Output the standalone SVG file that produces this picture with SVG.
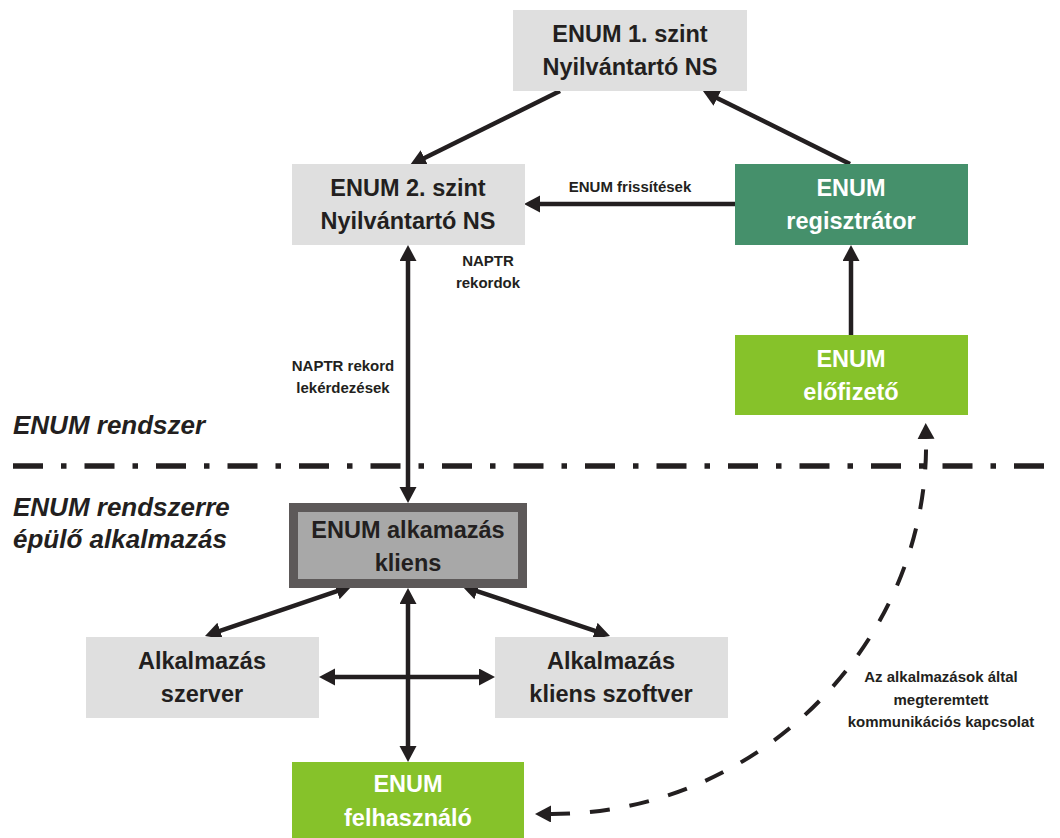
<svg xmlns="http://www.w3.org/2000/svg" width="1060" height="838" viewBox="0 0 1060 838">
<style>
.bg{fill:#ffffff}
.box{fill:#dfdfdf}
.reg{fill:#45906b}
.sub{fill:#86c22a}
.cli{fill:#a8a8a8;stroke:#5d5959;stroke-width:9}
.t{font-family:"Liberation Sans",Arial,sans-serif;font-weight:bold;font-size:23.5px;text-anchor:middle;fill:#231f20}
.w{fill:#ffffff}
.s{font-family:"Liberation Sans",Arial,sans-serif;font-weight:bold;font-size:15px;text-anchor:middle;fill:#231f20}
.it{font-family:"Liberation Sans",Arial,sans-serif;font-weight:bold;font-style:italic;font-size:26px;fill:#231f20}
.ln{fill:none;stroke:#231f20;stroke-width:4.5}
.one{marker-end:url(#ah)}
.two{marker-start:url(#ah);marker-end:url(#ah)}
.dash{fill:none;stroke:#231f20;stroke-width:4;stroke-dasharray:20 20;marker-start:url(#ah);marker-end:url(#ah)}
.sep{fill:none;stroke:#231f20;stroke-width:5.5;stroke-dasharray:30 18 5.5 18}
</style>
<defs>
<marker id="ah" markerUnits="userSpaceOnUse" markerWidth="18" markerHeight="18" refX="1" refY="8.5" orient="auto-start-reverse">
<path d="M0,0 L16,8.5 L0,17 Z" fill="#231f20"/>
</marker>
</defs>
<rect class="bg" x="0" y="0" width="1060" height="838"/>

<g id="separator">
<line class="sep" x1="13" y1="466" x2="1050" y2="466"/>
</g>

<g id="region-labels">
<text class="it" x="13" y="434">ENUM rendszer</text>
<text class="it" x="13" y="516">ENUM rendszerre</text>
<text class="it" x="13" y="548">épülő alkalmazás</text>
</g>

<g id="connectors">
<path class="ln one" d="M560,91 L423.5,158.4"/>
<path class="ln one" d="M850,164 L716.4,97.7"/>
<path class="ln one" d="M735,204 L539,204"/>
<path class="ln one" d="M851,335 L851,260"/>
<path class="ln two" d="M408,260 L408,488"/>
<path class="ln two" d="M337.8,590.8 L219.2,631.2"/>
<path class="ln two" d="M476.2,590.8 L595.8,631.2"/>
<path class="ln two" d="M408,603 L408,747"/>
<path class="ln two" d="M334,677 L480,677"/>
<path class="dash" d="M550,814 C760,815 930,640 926,438"/>
</g>

<g id="connector-labels">
<text class="s" x="630" y="192">ENUM frissítések</text>
<text class="s" x="488" y="265.5">NAPTR</text>
<text class="s" x="488" y="287.5">rekordok</text>
<text class="s" x="343" y="371">NAPTR rekord</text>
<text class="s" x="343" y="393">lekérdezések</text>
<text class="s" x="941" y="682">Az alkalmazások által</text>
<text class="s" x="941" y="704.5">megteremtett</text>
<text class="s" x="941" y="727">kommunikációs kapcsolat</text>
</g>

<g id="enum1">
<rect class="box" x="513" y="10" width="234" height="81"/>
<text class="t" x="630" y="41.5">ENUM 1. szint</text>
<text class="t" x="630" y="75">Nyilvántartó NS</text>
</g>

<g id="enum2">
<rect class="box" x="292" y="164" width="233" height="81"/>
<text class="t" x="408" y="195.5">ENUM 2. szint</text>
<text class="t" x="408" y="228.5">Nyilvántartó NS</text>
</g>

<g id="registrator">
<rect class="reg" x="735" y="164" width="233" height="81"/>
<text class="t w" x="851" y="195.5">ENUM</text>
<text class="t w" x="851" y="228.5">regisztrátor</text>
</g>

<g id="subscriber">
<rect class="sub" x="735" y="335" width="233" height="80"/>
<text class="t w" x="851" y="366.5">ENUM</text>
<text class="t w" x="851" y="399.5">előfizető</text>
</g>

<g id="client">
<rect class="cli" x="293.5" y="507.5" width="229" height="76"/>
<text class="t" x="408" y="537.5">ENUM alkamazás</text>
<text class="t" x="408" y="570.5">kliens</text>
</g>

<g id="app-server">
<rect class="box" x="86" y="637" width="233" height="81"/>
<text class="t" x="202" y="668.5">Alkalmazás</text>
<text class="t" x="202" y="701.5">szerver</text>
</g>

<g id="app-client-sw">
<rect class="box" x="495" y="637" width="233" height="81"/>
<text class="t" x="611" y="668.5">Alkalmazás</text>
<text class="t" x="611" y="701.5">kliens szoftver</text>
</g>

<g id="user">
<rect class="sub" x="292" y="762" width="232" height="80"/>
<text class="t w" x="408" y="791.5">ENUM</text>
<text class="t w" x="408" y="825.5">felhasználó</text>
</g>
</svg>
